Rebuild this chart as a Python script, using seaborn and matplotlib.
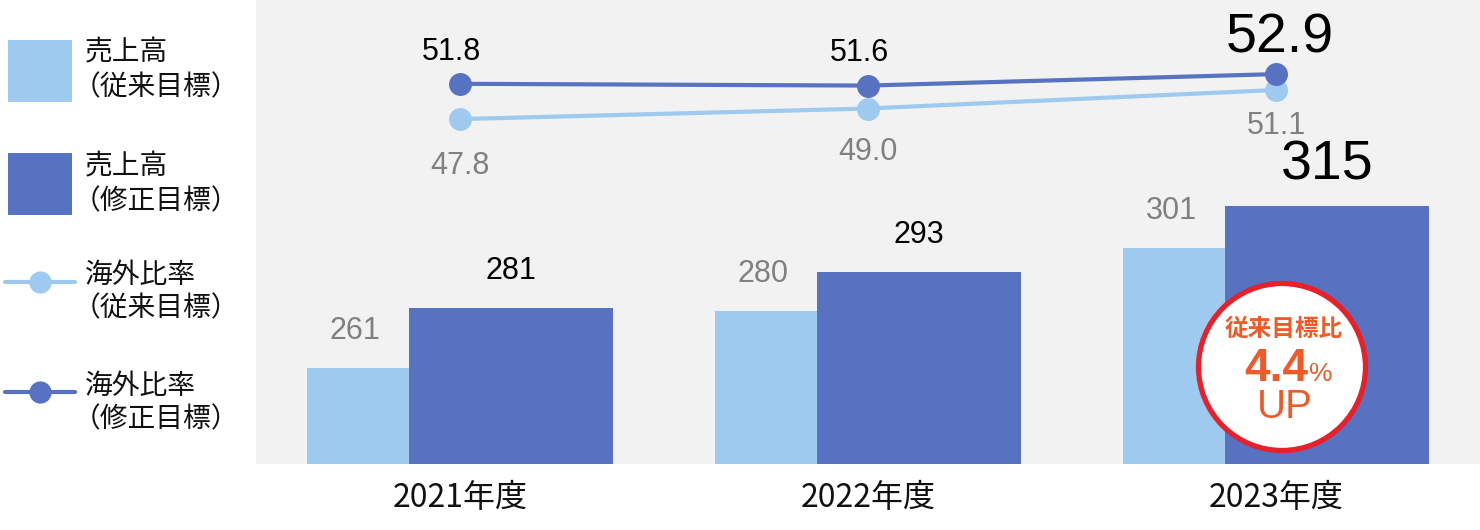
import numpy as np
import matplotlib.pyplot as plt
import matplotlib.patches as mpatches
from matplotlib.lines import Line2D
import seaborn as sns

years = ['2021年度', '2022年度', '2023年度']
sales_prev = [261, 280, 301]      # 売上高（従来目標）
sales_rev = [281, 293, 315]       # 売上高（修正目標）
ratio_prev = [47.8, 49.0, 51.1]   # 海外比率（従来目標）
ratio_rev = [51.8, 51.6, 52.9]    # 海外比率（修正目標）
legend_top = ['売上高', '売上高', '海外比率', '海外比率']
legend_sub = ['（従来目標）', '（修正目標）', '（従来目標）', '（修正目標）']

LIGHT = '#9DCAEE'
DARK = '#5672C0'
GREY = '#808080'
BG = '#F2F2F2'
ORANGE = '#F05A28'
RED = '#E8202A'

sns.set_theme(style='white')
plt.rcParams['font.family'] = ['Liberation Sans', 'Noto Sans CJK JP', 'DejaVu Sans']
CJK = ['Noto Sans CJK JP', 'DejaVu Sans']

W, H = 1480, 530
fig = plt.figure(figsize=(W / 100, H / 100), dpi=100)

# main axes (pixel layout of the reference)
ax = fig.add_axes([256 / W, (H - 464) / H, (W - 256) / W, 464 / H])
ax.set_facecolor(BG)

pos = np.arange(len(years))
sns.barplot(x=pos - 0.25, y=sales_prev, native_scale=True, width=0.25,
            color=LIGHT, saturation=1, errorbar=None, linewidth=0, ax=ax)
sns.barplot(x=pos + 0.125, y=sales_rev, native_scale=True, width=0.5,
            color=DARK, saturation=1, errorbar=None, linewidth=0, ax=ax)

ax.set_xlim(-0.5, 2.5)
ax.set_ylim(229, 229 + 464 / 3)
ax.set_xticks(pos)
ax.set_xticklabels(years, fontsize=23, family=CJK, color='#111111')
ax.set_yticks([])
ax.tick_params(axis='x', length=0, pad=13)
ax.set_xlabel('')
ax.set_ylabel('')
for s in ax.spines.values():
    s.set_visible(False)

px = 0.72  # points per pixel
for i, v in enumerate(sales_prev):
    ax.annotate(str(v), (pos[i] - 0.25, v), xytext=(-2, 37 * px), textcoords='offset points',
                ha='center', va='center', fontsize=22, color=GREY)
for i, v in enumerate(sales_rev):
    big = i == len(sales_rev) - 1
    ax.annotate(str(v), (pos[i] + 0.125, v), xytext=(0, (40 if big else 37) * px),
                textcoords='offset points', ha='center', va='center',
                fontsize=40 if big else 22, color='black')

# overseas ratio lines on a twin axis
ax2 = ax.twinx()
sns.lineplot(x=pos, y=ratio_prev, color=LIGHT, lw=3, marker='o', markersize=16.5,
             markeredgewidth=0, ax=ax2)
sns.lineplot(x=pos, y=ratio_rev, color=DARK, lw=3, marker='o', markersize=16.5,
             markeredgewidth=0, ax=ax2)
ax2.set_ylim(8.7, 61.3)
ax2.set_yticks([])
ax2.set_ylabel('')
for s in ax2.spines.values():
    s.set_visible(False)

below = [47, 43, 36]
above = [32, 33, 36]
for i, v in enumerate(ratio_prev):
    ax2.annotate(f'{v:.1f}', (pos[i], v), xytext=(0, -below[i] * px), textcoords='offset points',
                 ha='center', va='center', fontsize=22, color=GREY)
for i, v in enumerate(ratio_rev):
    big = i == len(ratio_rev) - 1
    ax2.annotate(f'{v:.1f}', (pos[i], v), xytext=(3 if big else -6, above[i] * px),
                 textcoords='offset points', ha='center', va='center',
                 fontsize=40 if big else 22, color='black')

# badge
def fx(p):
    return p / W

def fy(p):
    return 1 - p / H

circ = mpatches.Circle((1282 / 100, (H - 367) / 100), 0.835, transform=fig.dpi_scale_trans,
                       facecolor='white', edgecolor=RED, lw=3.8, zorder=5)
fig.patches.append(circ)
fig.text(fx(1284), fy(329), '従来目標比', family=CJK, fontweight='bold', fontsize=17,
         color=ORANGE, ha='center', va='center', zorder=6)
fig.text(fx(1308), fy(381), '4.4', fontsize=33, fontweight='bold', color=ORANGE,
         ha='right', va='baseline', zorder=6)
fig.text(fx(1309), fy(381), '%', fontsize=19, color=ORANGE, ha='left', va='baseline', zorder=6)
fig.text(fx(1285), fy(418), 'UP', fontsize=29, color=ORANGE, ha='center', va='baseline', zorder=6)

# legend panel
lax = fig.add_axes([0, 0, 256 / W, 1])
lax.set_xlim(0, 256)
lax.set_ylim(H, 0)
lax.axis('off')
lax.add_patch(mpatches.Rectangle((8, 40), 64, 62, color=LIGHT, lw=0))
lax.add_patch(mpatches.Rectangle((8, 153), 64, 62, color=DARK, lw=0))
lax.add_line(Line2D([5, 75], [282, 282], color=LIGHT, lw=3))
lax.plot([40], [282], 'o', color=LIGHT, markersize=16, markeredgewidth=0)
lax.add_line(Line2D([5, 75], [392, 392], color=DARK, lw=3))
lax.plot([40], [392], 'o', color=DARK, markersize=16, markeredgewidth=0)
for y1, y2, t1, t2 in zip([52, 166, 275, 386], [87, 201, 308, 419], legend_top, legend_sub):
    lax.text(85, y1, t1, family=CJK, fontsize=20, color='#111111', ha='left', va='center')
    lax.text(73, y2, t2, family=CJK, fontsize=20, color='#111111', ha='left', va='center')

fig.savefig('out.png', dpi=100)
